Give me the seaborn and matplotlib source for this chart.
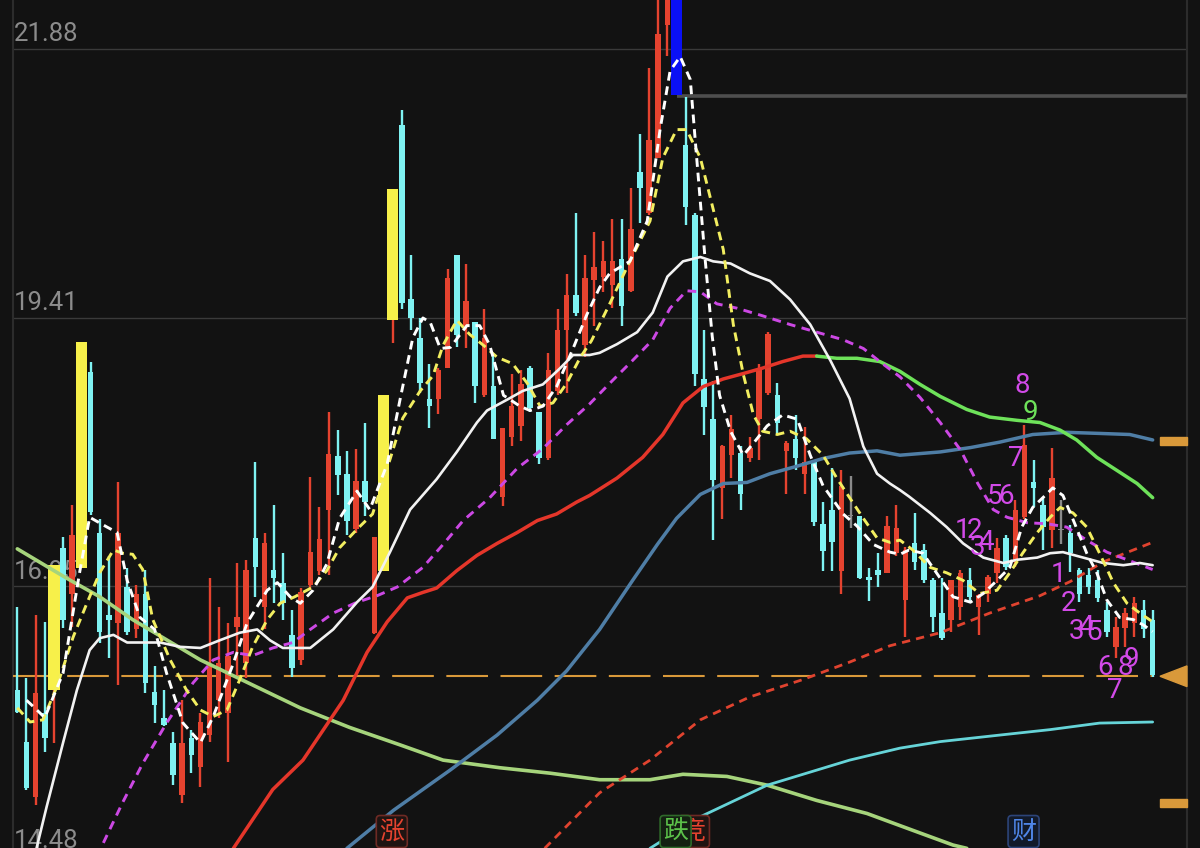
import numpy as np
import pandas as pd
import matplotlib
matplotlib.use("Agg")
import matplotlib.pyplot as plt
from matplotlib.patches import Polygon, Rectangle
import seaborn as sns

BG = "#121212"
UP = "#e5432f"
DOWN = "#7ff2f2"
FLAT = "#8a8a8a"
HILITE_YELLOW = "#f7f04a"
HILITE_BLUE = "#0a10f5"
ORANGE = "#d9993a"
MAGENTA = "#d24ae8"

# ── candles ──────────────────────────────────────────────────────────────────
opens = [15.99, 15.52, 15.01, 15.78, 15.99, 17.30, 16.88, 17.11, 18.91, 17.44,
         16.68, 16.61, 16.94, 16.55, 16.88, 15.98, 15.74, 15.51, 15.03, 15.55,
         15.29, 15.58, 15.90, 15.78, 16.57, 16.24, 17.39, 16.76, 17.10, 16.98,
         16.50, 16.27, 16.96, 17.09, 17.65, 18.14, 17.98, 17.47, 17.91, 16.52,
         17.09, 19.39, 21.18, 19.58, 19.23, 18.67, 18.67, 18.95, 19.99, 19.34,
         19.37, 18.70, 18.79, 17.77, 18.32, 18.42, 18.95, 18.55, 18.12, 18.74,
         19.30, 19.62, 19.16, 19.76, 19.79, 19.71, 19.95, 19.66, 20.75, 20.37,
         20.88, 22.10, 22.70, 21.00, 20.36, 18.85, 18.48, 17.85, 18.15, 18.17,
         18.12, 18.48, 18.72, 18.70, 18.19, 18.30, 17.98, 18.09, 17.52, 17.65,
         17.09, 17.59, 17.59, 17.03, 17.10, 17.07, 17.25, 16.82, 17.34, 17.28,
         17.00, 16.70, 16.64, 16.76, 17.00, 16.76, 16.88, 17.07, 17.39, 17.19,
         17.58, 17.90, 17.69, 17.46, 17.46, 17.44, 17.10, 17.05, 17.00, 16.73,
         16.39, 16.56, 16.61, 16.73, 16.64]
highs = [16.76, 16.10, 16.68, 16.62, 17.14, 17.40, 17.69, 19.19, 19.01, 17.56,
         17.22, 17.90, 17.11, 16.96, 17.10, 16.21, 15.99, 15.61, 15.90, 15.63,
         15.78, 17.02, 16.76, 16.61, 17.16, 17.19, 18.09, 17.44, 17.69, 17.25,
         16.73, 16.93, 17.95, 17.67, 18.55, 18.38, 18.19, 18.21, 18.45, 17.40,
         18.70, 20.59, 21.32, 19.99, 19.41, 18.99, 18.95, 19.86, 19.99, 19.91,
         19.37, 19.49, 19.09, 18.40, 18.90, 18.93, 18.97, 18.55, 19.09, 19.49,
         19.81, 20.37, 19.99, 20.20, 20.12, 20.32, 20.32, 20.60, 21.10, 21.71,
         22.45, 22.80, 22.70, 21.44, 20.37, 19.30, 18.83, 18.24, 18.52, 18.23,
         18.32, 18.99, 19.28, 18.81, 18.28, 18.52, 18.41, 18.09, 17.72, 18.03,
         18.01, 17.96, 17.59, 17.11, 17.25, 17.59, 17.69, 17.31, 17.62, 17.33,
         17.02, 17.02, 17.00, 17.10, 17.11, 16.88, 17.05, 17.39, 17.42, 17.74,
         18.43, 18.11, 17.77, 18.22, 17.74, 17.51, 17.11, 17.11, 17.10, 16.80,
         16.66, 16.75, 16.85, 16.82, 16.73]
lows = [15.78, 15.08, 14.94, 15.42, 15.51, 16.56, 16.57, 17.11, 17.60, 16.43,
        16.29, 16.04, 16.50, 16.47, 15.97, 15.69, 15.66, 15.12, 14.96, 15.23,
        15.10, 15.52, 15.74, 15.33, 16.11, 16.10, 16.85, 16.55, 16.79, 16.64,
        16.11, 16.22, 16.91, 17.05, 17.05, 17.78, 17.42, 17.44, 17.59, 16.51,
        17.09, 19.18, 19.49, 19.30, 18.72, 18.40, 18.53, 18.95, 19.14, 19.13,
        18.63, 18.68, 18.30, 17.68, 18.23, 18.28, 18.55, 18.07, 18.11, 18.70,
        18.72, 19.43, 19.05, 19.34, 19.65, 19.50, 19.34, 19.65, 20.28, 20.36,
        20.88, 21.82, 21.46, 20.26, 18.79, 18.34, 17.37, 17.56, 17.94, 17.65,
        18.09, 18.11, 18.70, 18.34, 17.79, 18.01, 17.79, 17.50, 17.09, 17.09,
        16.88, 17.48, 17.01, 16.81, 16.94, 17.07, 17.22, 16.48, 17.10, 16.98,
        16.53, 16.45, 16.53, 16.64, 16.80, 16.50, 16.80, 16.98, 17.10, 17.12,
        17.56, 17.67, 17.28, 17.30, 17.33, 17.08, 16.80, 16.88, 16.80, 16.48,
        16.29, 16.39, 16.48, 16.47, 16.11]
closes = [15.79, 15.09, 15.97, 15.55, 17.14, 16.64, 17.42, 19.19, 17.63, 16.53,
          16.64, 17.44, 16.53, 16.88, 16.06, 15.86, 15.67, 15.21, 15.51, 15.40,
          15.70, 16.22, 16.24, 16.31, 16.66, 17.10, 17.12, 17.34, 17.02, 16.79,
          16.20, 16.89, 17.26, 17.38, 18.16, 17.97, 17.55, 17.91, 17.72, 17.40,
          18.70, 20.59, 19.55, 19.41, 18.81, 18.60, 18.93, 19.78, 19.25, 19.57,
          18.79, 19.23, 18.30, 18.40, 18.60, 18.80, 18.58, 18.12, 18.93, 19.30,
          19.62, 19.46, 19.78, 19.88, 19.93, 19.93, 19.52, 20.23, 20.60, 21.04,
          22.02, 22.60, 21.46, 20.43, 18.90, 18.59, 17.92, 18.23, 18.39, 17.79,
          18.22, 18.93, 19.26, 18.45, 18.26, 18.12, 18.09, 17.54, 17.27, 17.35,
          17.87, 17.59, 17.02, 17.00, 17.05, 17.50, 17.48, 17.28, 17.17, 17.00,
          16.66, 16.47, 17.00, 17.07, 16.85, 16.87, 17.03, 17.30, 17.12, 17.65,
          18.24, 17.85, 17.49, 17.94, 17.46, 17.25, 16.88, 16.94, 16.84, 16.53,
          16.57, 16.70, 16.79, 16.55, 16.13]
yellow_idx = [4, 7, 40, 41]
blue_idx = [72]

# ── moving-average style lines: (candle index, price) samples ───────────────
ma5_i = [1, 1.9, 3, 5, 6.8, 7.9, 9.8, 10.9, 12, 13.4, 15, 16.3, 18.1, 20, 21.4, 23.6,
         25.1, 27.3, 28.4, 29.8, 30.9, 32.3, 33.8, 35.2, 37.1, 38.5, 40.4, 41.8,
         43.2, 44.3, 45.1, 46.2, 47.3, 49.1, 50.5, 51.6, 53.1, 54.9, 56, 57.4,
         58.9, 60.7, 62.2, 63.6, 64.7, 66.9, 68.8, 70.2, 71.3, 72.4, 73.5, 74.2,
         75.1, 75.9, 76.7, 77.9, 79.3, 80.4, 81.9, 83.6, 85.2, 86.6, 88, 90.2,
         91.7, 93.5, 95.3, 96.4, 97.4, 98.9, 100.8, 102.2, 104.1, 105.5, 107,
         108.4, 109.7, 110.9, 112.5, 113.1, 114.2, 115.3, 116.8, 117.9, 119,
         120.4, 121.9, 123, 124]
ma5_p = [15.90, 15.83, 15.74, 16.15, 17.07, 17.58, 17.49, 17.44, 17.00, 16.66, 16.55,
         16.15, 15.69, 15.51, 15.75, 16.24, 16.61, 16.91, 16.98, 16.85, 16.79,
         16.91, 17.15, 17.57, 17.82, 17.65, 18.07, 18.66, 19.23, 19.41, 19.37,
         19.13, 19.14, 19.34, 19.34, 19.16, 18.70, 18.60, 18.56, 18.60, 18.78,
         19.13, 19.44, 19.69, 19.82, 19.93, 20.30, 21.14, 21.68, 21.81, 21.60,
         20.88, 19.97, 19.24, 18.70, 18.37, 18.15, 18.26, 18.42, 18.52, 18.48,
         18.15, 17.87, 17.61, 17.50, 17.33, 17.26, 17.24, 17.28, 17.25, 17.02,
         16.85, 16.80, 16.88, 17.00, 17.12, 17.49, 17.67, 17.80, 17.85, 17.78,
         17.56, 17.25, 17.07, 16.82, 16.66, 16.64, 16.59, 16.53]

ma10_i = [0, 1.4, 2.8, 4.3, 6.1, 7.6, 9, 10.5, 11.5, 12.6, 13.7, 14.8, 16.7, 18.5,
          20, 21.4, 22.9, 24.3, 25.7, 27.3, 28.7, 30.3, 32.3, 33.8, 35.2, 37.1,
          38.8, 40.7, 42.1, 44, 45.4, 46.5, 48, 49.4, 50.9, 52.4, 54.1, 55.7,
          57.1, 58.5, 60, 61.5, 62.7, 64.7, 66.9, 69.1, 70.5, 72, 73.1, 74.6, 76,
          77.1, 78.2, 79.3, 80.4, 81.4, 83, 84.4, 86.2, 88, 89.5, 90.9, 92.4,
          93.9, 95.3, 96.4, 97.8, 99.7, 101.5, 103.3, 105.1, 107, 108.4, 109.8,
          111.4, 112.8, 113.9, 115.3, 116.8, 118.2, 119.7, 121.2, 122.6, 124]
ma10_p = [15.83, 15.70, 15.72, 16.02, 16.48, 16.79, 17.07, 17.28, 17.25, 17.24,
          17.10, 16.64, 16.27, 15.99, 15.81, 15.75, 15.81, 16.09, 16.39, 16.64,
          16.79, 16.85, 16.94, 17.09, 17.30, 17.47, 17.61, 18.11, 18.49, 18.74,
          18.88, 19.16, 19.39, 19.26, 19.16, 19.05, 18.99, 18.81, 18.60, 18.63,
          18.81, 19.05, 19.20, 19.54, 19.93, 20.30, 20.88, 21.14, 21.14, 20.88,
          20.41, 20.04, 19.35, 18.89, 18.52, 18.37, 18.34, 18.37, 18.30, 18.15,
          17.94, 17.76, 17.57, 17.39, 17.35, 17.37, 17.28, 17.12, 17.07, 17.00,
          16.88, 16.91, 17.07, 17.25, 17.44, 17.58, 17.67, 17.62, 17.49, 17.25,
          16.98, 16.79, 16.70, 16.62]

ma20_i = [2.1, 3.2, 5, 6.5, 7.9, 9, 10.5, 12, 13.4, 15.6, 17.8, 20, 22.1, 24.3,
          26.2, 27.6, 29, 30.9, 32, 34.5, 37.1, 38.8, 40.7, 42.9, 45.8, 48, 50.2,
          51.3, 53.5, 55.2, 57.4, 59.3, 60.7, 62.5, 63.6, 65.5, 67.7, 69.4, 71,
          72.7, 74.6, 76, 77.9, 80, 82.2, 84.4, 86.6, 88.8, 90.9, 92.4, 93.9,
          95.3, 96.4, 97.4, 99.7, 101.5, 103.3, 105.5, 107.7, 109.2, 111.4,
          112.8, 114.2, 116.4, 118.6, 120.8, 122.6, 124]
ma20_p = [14.54, 14.92, 15.51, 15.99, 16.36, 16.47, 16.50, 16.43, 16.43, 16.43,
          16.39, 16.38, 16.45, 16.52, 16.55, 16.45, 16.38, 16.38, 16.38, 16.55,
          16.80, 16.94, 17.26, 17.65, 17.93, 18.18, 18.45, 18.56, 18.66, 18.74,
          18.80, 18.95, 19.07, 19.07, 19.09, 19.17, 19.28, 19.46, 19.79, 19.93,
          19.97, 19.93, 19.91, 19.82, 19.75, 19.58, 19.35, 19.02, 18.67, 18.23,
          17.98, 17.89, 17.83, 17.77, 17.62, 17.49, 17.34, 17.21, 17.16, 17.19,
          17.21, 17.25, 17.26, 17.21, 17.16, 17.14, 17.16, 17.14]

ma30_i = [9.4, 11.5, 13.7, 16.3, 19.2, 21.4, 23.6, 25.7, 27.9, 30.1, 32, 34.5,
          37.1, 39.3, 41.5, 44.3, 46.5, 48.7, 51.6, 54.6, 57.4, 60, 62.5, 64.7,
          67.2, 69.4, 71.3, 73.1, 74.6, 76.4, 78.6, 81.4, 84.4, 87.3, 90.2, 92.4,
          94.5, 96.4, 98.6, 100.8, 103, 104.9, 106.6, 108.1, 110.3, 112.5, 114.6,
          116.8, 119, 121.2, 124]
ma30_p = [14.59, 14.96, 15.32, 15.69, 16.06, 16.27, 16.34, 16.31, 16.38, 16.43,
          16.55, 16.70, 16.80, 16.86, 16.94, 17.12, 17.33, 17.55, 17.76, 18.03,
          18.21, 18.43, 18.62, 18.81, 19.02, 19.21, 19.50, 19.66, 19.65, 19.54,
          19.50, 19.43, 19.35, 19.28, 19.21, 19.13, 18.99, 18.87, 18.68, 18.45,
          18.20, 17.89, 17.65, 17.58, 17.53, 17.52, 17.49, 17.37, 17.26, 17.19,
          17.10]

ma60_i = [23.6, 27.9, 31.2, 35.6, 38.2, 40.4, 42.6, 44.3, 45.8, 48, 50.2, 52.4,
          54.6, 56.8, 58.9, 61.1, 62.5, 65.5, 68.3, 70.5, 72.7, 74.9, 77.1, 79.3,
          81.4, 83.6, 85.8, 87.3]
ma60_p = [14.54, 15.08, 15.35, 15.90, 16.34, 16.62, 16.84, 16.89, 16.93, 17.09,
          17.23, 17.34, 17.44, 17.55, 17.61, 17.72, 17.78, 17.94, 18.13, 18.34,
          18.63, 18.78, 18.85, 18.90, 18.95, 19.01, 19.06, 19.06]
ma60_down_i = [87.3, 89.5, 91.7, 94.2, 96.4, 98.6, 100.8, 103.7, 106.2, 109.2,
               111.7, 113.9, 115.7, 117.9, 120.1, 122.3, 124]
ma60_down_p = [19.06, 19.04, 19.04, 19.01, 18.92, 18.80, 18.69, 18.57, 18.50, 18.47,
               18.45, 18.38, 18.29, 18.13, 18.01, 17.89, 17.76]

ma120_i = [36, 41.1, 47.3, 52.4, 56.8, 60, 63.6, 67.2, 69.9, 72, 74.6, 77.1, 79.7,
           82.2, 85.2, 88, 90.9, 93.9, 96.4, 100.8, 104.1, 107.3, 110.9, 114.6,
           118.2, 121.5, 124]
ma120_p = [14.54, 14.89, 15.26, 15.58, 15.90, 16.17, 16.55, 17.00, 17.33, 17.57,
           17.79, 17.89, 17.90, 17.98, 18.05, 18.12, 18.17, 18.19, 18.15, 18.18,
           18.22, 18.27, 18.34, 18.36, 18.35, 18.34, 18.29]

ma250_i = [0, 5.4, 9, 12.6, 20, 30.9, 36.3, 41.8, 46.5, 52.7, 58.2, 63.6, 69.1,
           72.7, 77.5, 81.9, 87.3, 92.8, 98.3, 102.2, 103.7]
ma250_p = [17.29, 17.02, 16.85, 16.64, 16.27, 15.83, 15.65, 15.49, 15.35, 15.28,
           15.23, 15.17, 15.17, 15.22, 15.20, 15.12, 14.98, 14.86, 14.69, 14.57,
           14.54]

cyan_i = [69.1, 74.6, 81.9, 90.9, 96.4, 100.8, 107.3, 112.8, 118.2, 124]
cyan_p = [14.54, 14.83, 15.12, 15.35, 15.46, 15.52, 15.58, 15.63, 15.69, 15.70]

trend_i = [57.6, 63.6, 69.1, 74.6, 80, 85.8, 90.9, 95.3, 100.8, 106.2, 111.7, 115,
           118.6, 124]
trend_p = [14.54, 15.05, 15.35, 15.72, 15.93, 16.09, 16.25, 16.40, 16.52, 16.70,
           16.86, 16.99, 17.17, 17.35]

# ── labels ──────────────────────────────────────────────────────────────────
grid_prices = [21.88, 19.41, 16.945, 14.475]
grid_labels = ["21.88", "19.41", "16.95", "14.48"]
support_price = 16.12
peak_line_price = 21.45
side_marks = [18.28, 14.96]

td_labels = ["8", "9", "7", "5", "6", "1", "2", "3", "4", "1", "2", "3", "4", "5",
             "6", "8", "9", "7"]
td_idx = [109.8, 110.6, 109.0, 106.8, 108.0, 103.2, 104.5, 104.9, 105.8, 113.7,
          114.8, 115.7, 116.7, 117.7, 118.8, 121.0, 121.7, 119.9]
td_price = [18.79, 18.54, 18.12, 17.77, 17.77, 17.46, 17.46, 17.30, 17.35, 17.05,
            16.79, 16.53, 16.57, 16.52, 16.20, 16.20, 16.27, 15.99]
td_green = [1]

event_text = ["涨", "竞", "跌", "财"]
event_idx = [40.9, 73.9, 71.9, 109.9]
event_fg = ["#e5432f", "#e5432f", "#5cc24a", "#4f86e8"]
event_edge = ["#6e2a24", "#6e2a24", "#2f6a2a", "#2c4478"]
event_bg = ["#1f1412", "#1f1412", "#142012", "#121a2a"]

# ── figure ──────────────────────────────────────────────────────────────────
sns.set_theme(style="dark")
plt.rcParams["font.family"] = ["Roboto", "Noto Sans CJK SC", "DejaVu Sans"]

fig = plt.figure(figsize=(12, 8.48), dpi=100, facecolor=BG)
ax = fig.add_axes([0, 0, 1, 1])
ax.set_facecolor(BG)
x_left, x_right = -1.889, 129.17
y_low, y_high = 14.543, 22.33

edge_l, edge_r = -0.47, 127.75
for gp, gl in zip(grid_prices, grid_labels):
    ax.hlines(gp, edge_l, edge_r, color="#3a3a3a", lw=1.0, zorder=1)
    ax.text(-0.36, gp + 0.025, gl, color="#8c8c8c", fontsize=18.5,
            ha="left", va="bottom", zorder=1)
ax.vlines([edge_l, edge_r], 14.4, 22.5, color="#2c2c2c", lw=1.5, zorder=1)

# candles
idx = np.arange(len(opens))
o = np.array(opens); h = np.array(highs); l = np.array(lows); c = np.array(closes)
colors = np.where(c > o, UP, np.where(c < o, DOWN, FLAT)).astype(object)
widths = np.full(len(o), 0.6)
for k in yellow_idx:
    colors[k] = HILITE_YELLOW
    widths[k] = 1.25
for k in blue_idx:
    colors[k] = HILITE_BLUE
    widths[k] = 1.2
wick_colors = [UP if k in yellow_idx else (HILITE_BLUE if k in blue_idx else colors[k])
               for k in idx]
ax.vlines(idx, l, h, colors=wick_colors, lw=1.7, zorder=3)
body_low = np.minimum(o, c)
body_h = np.maximum(np.abs(c - o), 0.015)
ax.bar(idx, body_h, bottom=body_low, width=widths, color=list(colors),
       linewidth=0, zorder=4)


# moving-average lines
def draw_line(xs, ys, color, lw, dashes=None, z=5):
    df = pd.DataFrame({"i": xs, "p": ys})
    sns.lineplot(data=df, x="i", y="p", ax=ax, color=color, linewidth=lw,
                 sort=False, zorder=z)
    line = ax.lines[-1]
    if dashes is not None:
        line.set_dashes(dashes)
    line.set_solid_capstyle("round")


draw_line(ma250_i, ma250_p, "#a6d47c", 2.6, z=5)
draw_line(cyan_i, cyan_p, "#66d4d8", 2.0, z=5)
draw_line(trend_i, trend_p, "#e0432f", 2.0, dashes=(3, 2.2), z=5)
draw_line(ma120_i, ma120_p, "#4f7ea6", 2.5, z=5)
draw_line(ma60_i, ma60_p, "#e5362a", 2.5, z=6)
draw_line(ma60_down_i, ma60_down_p, "#6ee25a", 2.5, z=6)
draw_line(ma30_i, ma30_p, "#cc48e4", 2.1, dashes=(3, 2.2), z=6)
draw_line(ma20_i, ma20_p, "#f2f2f2", 1.9, z=7)
draw_line(ma10_i, ma10_p, "#f2ee60", 2.1, dashes=(3, 2.0), z=7)
draw_line(ma5_i, ma5_p, "#ffffff", 2.1, dashes=(3, 2.0), z=8)
ax.set_xlabel("")
ax.set_ylabel("")
ax.set_xlim(x_left, x_right)
ax.set_ylim(y_low, y_high)
ax.axis("off")

# reference lines
ax.hlines(support_price, edge_l, 124, color=ORANGE, lw=1.5,
          linestyles=(0, (20, 6)), zorder=2)
ax.hlines(peak_line_price, blue_idx[0], edge_r, color="#4e4e4e", lw=2.6, zorder=2)
tri = Polygon([[124.8, support_price], [edge_r, support_price + 0.095],
               [edge_r, support_price - 0.095]], closed=True, color=ORANGE, zorder=9)
ax.add_patch(tri)
for sp in side_marks:
    ax.add_patch(Rectangle((124.8, sp - 0.037), edge_r - 124.8, 0.074,
                           color=ORANGE, zorder=9))

# TD sequence counts
for k, (t, xi, yp) in enumerate(zip(td_labels, td_idx, td_price)):
    ax.text(xi, yp, t, color="#6ee25a" if k in td_green else MAGENTA,
            fontsize=20, ha="center", va="center", zorder=10,
            fontstretch="condensed")

# event markers along the bottom
for t, xi, fg, ec, bg in zip(event_text, event_idx, event_fg, event_edge, event_bg):
    ax.text(xi, 14.575, t, color=fg, fontsize=18, ha="center", va="bottom",
            family=["Noto Sans CJK SC", "DejaVu Sans"], zorder=11,
            bbox=dict(boxstyle="round,pad=0.12,rounding_size=0.15", fc=bg, ec=ec, lw=1.2))

fig.savefig("out.png", dpi=100, facecolor=BG)
